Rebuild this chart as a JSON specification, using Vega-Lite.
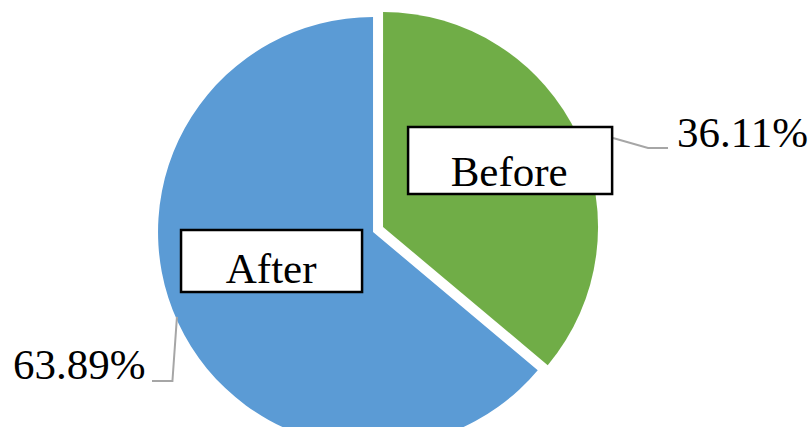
{
  "$schema": "https://vega.github.io/schema/vega-lite/v6.json",
  "width": 811,
  "height": 427,
  "autosize": "none",
  "padding": 0,
  "background": "white",
  "config": {"view": {"stroke": null}},
  "datasets": {
    "shares": [
      {"Category": "Before", "Share": 36.11},
      {"Category": "After", "Share": 63.89}
    ],
    "anno": [
      {"Category": "Before", "bx0": 16.3, "bx1": 111.2, "by0": 17.7, "by1": 48.8, "tx": 63.3, "ty": 21.4, "px": 141.4, "py": 39.5},
      {"Category": "After", "bx0": -89.3, "bx1": -5.1, "by0": -27.9, "by1": 0.9, "tx": -47.4, "ty": -23.7, "px": -167.4, "py": -68.4}
    ],
    "leaders": [
      {"Category": "Before", "step": 1, "lx": 111.6, "ly": 43.7},
      {"Category": "Before", "step": 2, "lx": 127.9, "ly": 39.1},
      {"Category": "Before", "step": 3, "lx": 137.2, "ly": 39.1},
      {"Category": "After", "step": 1, "lx": -91.2, "ly": -39.5},
      {"Category": "After", "step": 2, "lx": -93.3, "ly": -69.3},
      {"Category": "After", "step": 3, "lx": -102.8, "ly": -69.3}
    ]
  },
  "layer": [
    {
      "data": {"name": "shares"},
      "mark": {"type": "arc", "radius": 215},
      "encoding": {
        "theta": {"field": "Share", "type": "quantitative", "stack": true},
        "order": {"field": "Share", "sort": "ascending"},
        "color": {"field": "Category", "type": "nominal", "scale": {"domain": ["Before", "After"], "range": ["#70AD47", "#5B9BD5"]}, "legend": null},
        "opacity": {"condition": {"test": "datum.Category === 'After'", "value": 1}, "value": 0},
        "x": {"datum": 0, "type": "quantitative", "scale": {"domain": [-173.5, 203.7], "nice": false, "zero": false}, "axis": null},
        "y": {"datum": 0, "type": "quantitative", "scale": {"domain": [-90.7, 107.9], "nice": false, "zero": false}, "axis": null}
      }
    },
    {
      "data": {"name": "shares"},
      "mark": {"type": "arc", "radius": 215, "xOffset": 10, "yOffset": -5},
      "encoding": {
        "theta": {"field": "Share", "type": "quantitative", "stack": true},
        "order": {"field": "Share", "sort": "ascending"},
        "color": {"field": "Category", "type": "nominal", "legend": null},
        "opacity": {"condition": {"test": "datum.Category === 'Before'", "value": 1}, "value": 0},
        "x": {"datum": 0, "type": "quantitative"},
        "y": {"datum": 0, "type": "quantitative"}
      }
    },
    {
      "data": {"name": "leaders"},
      "mark": {"type": "line", "color": "#A6A6A6", "strokeWidth": 2},
      "encoding": {
        "x": {"field": "lx", "type": "quantitative"},
        "y": {"field": "ly", "type": "quantitative"},
        "detail": {"field": "Category"},
        "order": {"field": "step", "type": "quantitative"}
      }
    },
    {
      "data": {"name": "anno"},
      "mark": {"type": "rect", "fill": "white", "stroke": "black", "strokeWidth": 2.5},
      "encoding": {
        "x": {"field": "bx0", "type": "quantitative"},
        "x2": {"field": "bx1"},
        "y": {"field": "by0", "type": "quantitative"},
        "y2": {"field": "by1"}
      }
    },
    {
      "data": {"name": "anno"},
      "mark": {"type": "text", "font": "Liberation Serif", "fontSize": 43, "align": "center", "baseline": "alphabetic", "color": "black"},
      "encoding": {
        "x": {"field": "tx", "type": "quantitative"},
        "y": {"field": "ty", "type": "quantitative"},
        "text": {"field": "Category"}
      }
    },
    {
      "data": {"name": "shares"},
      "transform": [
        {"lookup": "Category", "from": {"data": {"name": "anno"}, "key": "Category", "fields": ["px", "py"]}},
        {"calculate": "format(datum.Share, '.2f') + '%'", "as": "pct"}
      ],
      "mark": {"type": "text", "font": "Liberation Serif", "fontSize": 43, "align": "left", "baseline": "alphabetic", "color": "black"},
      "encoding": {
        "x": {"field": "px", "type": "quantitative"},
        "y": {"field": "py", "type": "quantitative"},
        "text": {"field": "pct"}
      }
    }
  ]
}
